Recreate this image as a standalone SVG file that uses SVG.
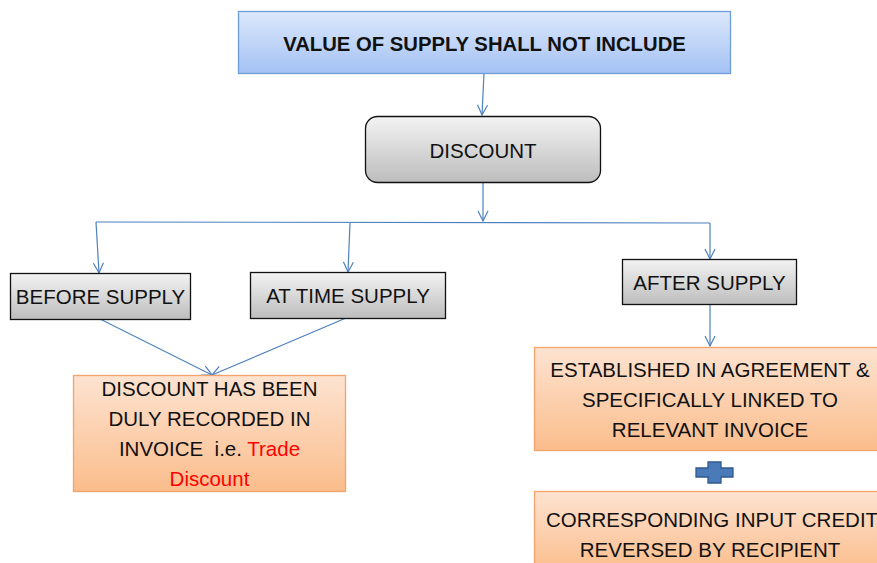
<svg xmlns="http://www.w3.org/2000/svg" width="877" height="563" viewBox="0 0 877 563">
<defs>
<linearGradient id="gBlue" x1="0" y1="0" x2="0" y2="1"><stop offset="0" stop-color="#dde8fb"/><stop offset="1" stop-color="#a4c2f4"/></linearGradient>
<linearGradient id="gGray" x1="0" y1="0" x2="0" y2="1"><stop offset="0" stop-color="#f3f3f3"/><stop offset="1" stop-color="#bdbdbd"/></linearGradient>
<linearGradient id="gOrange" x1="0" y1="0" x2="0" y2="1"><stop offset="0" stop-color="#fde3d1"/><stop offset="1" stop-color="#fbbd8c"/></linearGradient>
<marker id="arr" viewBox="0 0 12 12" refX="11" refY="6" markerWidth="12" markerHeight="12" markerUnits="userSpaceOnUse" orient="auto"><path d="M1,1 L11,6 L1,11" fill="none" stroke="#4f81bd" stroke-width="1.2"/></marker>
<style>
text{font-family:"Liberation Sans",Arial,sans-serif;font-size:20.5px;fill:#111;text-anchor:middle}
.title{font-weight:bold;font-size:20.3px}
.gray{fill:url(#gGray);stroke:#111;stroke-width:1.3}
.orange{fill:url(#gOrange);stroke:#f4a36a;stroke-width:1.3}
.conn{fill:none;stroke:#4f81bd;stroke-width:1.2}
.red{fill:#ff0000}
</style>
</defs>
<g id="connectors">
<path class="conn" d="M484,73 L482,115" marker-end="url(#arr)"/>
<path class="conn" d="M483,183 L483,221" marker-end="url(#arr)"/>
<path class="conn" d="M96,222 L710,223"/>
<path class="conn" d="M96,222 L99,273" marker-end="url(#arr)"/>
<path class="conn" d="M350,223 L348,272" marker-end="url(#arr)"/>
<path class="conn" d="M710,223 L710,259" marker-end="url(#arr)"/>
<path class="conn" d="M100,319 L212,375" marker-end="url(#arr)"/>
<path class="conn" d="M346,318 L212,375" marker-end="url(#arr)"/>
<path class="conn" d="M710,305 L710,346" marker-end="url(#arr)"/>
</g>
<g id="n-value">
<rect x="238.5" y="11.5" width="492" height="62" fill="url(#gBlue)" stroke="#6f9dd8" stroke-width="1.3"/>
<text class="title" x="484.5" y="51">VALUE OF SUPPLY SHALL NOT INCLUDE</text>
</g>
<g id="n-discount">
<rect class="gray" x="365.5" y="116.5" width="235" height="66" rx="12"/>
<text x="483" y="158">DISCOUNT</text>
</g>
<g id="n-before">
<rect class="gray" x="10.5" y="273.5" width="180" height="46"/>
<text x="100.5" y="304">BEFORE SUPPLY</text>
</g>
<g id="n-attime">
<rect class="gray" x="250.5" y="272.5" width="195" height="46"/>
<text x="348" y="303">AT TIME SUPPLY</text>
</g>
<g id="n-after">
<rect class="gray" x="622.5" y="259.5" width="174" height="45"/>
<text x="709.5" y="290">AFTER SUPPLY</text>
</g>
<g id="n-recorded">
<rect class="orange" x="73.5" y="375.5" width="272" height="116"/>
<text x="209.5" y="396">DISCOUNT HAS BEEN</text>
<text x="209.5" y="426">DULY RECORDED IN</text>
<text x="209.5" y="456" xml:space="preserve">INVOICE  i.e. <tspan class="red">Trade</tspan></text>
<text class="red" x="209.5" y="486">Discount</text>
</g>
<g id="n-established">
<rect class="orange" x="534.5" y="347.5" width="346" height="103"/>
<text x="710" y="377">ESTABLISHED IN AGREEMENT &amp;</text>
<text x="710" y="407">SPECIFICALLY LINKED TO</text>
<text x="710" y="437">RELEVANT INVOICE</text>
</g>
<g id="n-plus">
<path d="M708,462 H721 V468 H733 V477 H721 V483 H708 V477 H696 V468 H708 Z" fill="#4a7ab8" stroke="#2f5a8e" stroke-width="1.3"/>
</g>
<g id="n-corresponding">
<rect class="orange" x="534.5" y="491.5" width="346" height="80"/>
<text x="712" y="527">CORRESPONDING INPUT CREDIT</text>
<text x="710" y="557">REVERSED BY RECIPIENT</text>
</g>
</svg>
